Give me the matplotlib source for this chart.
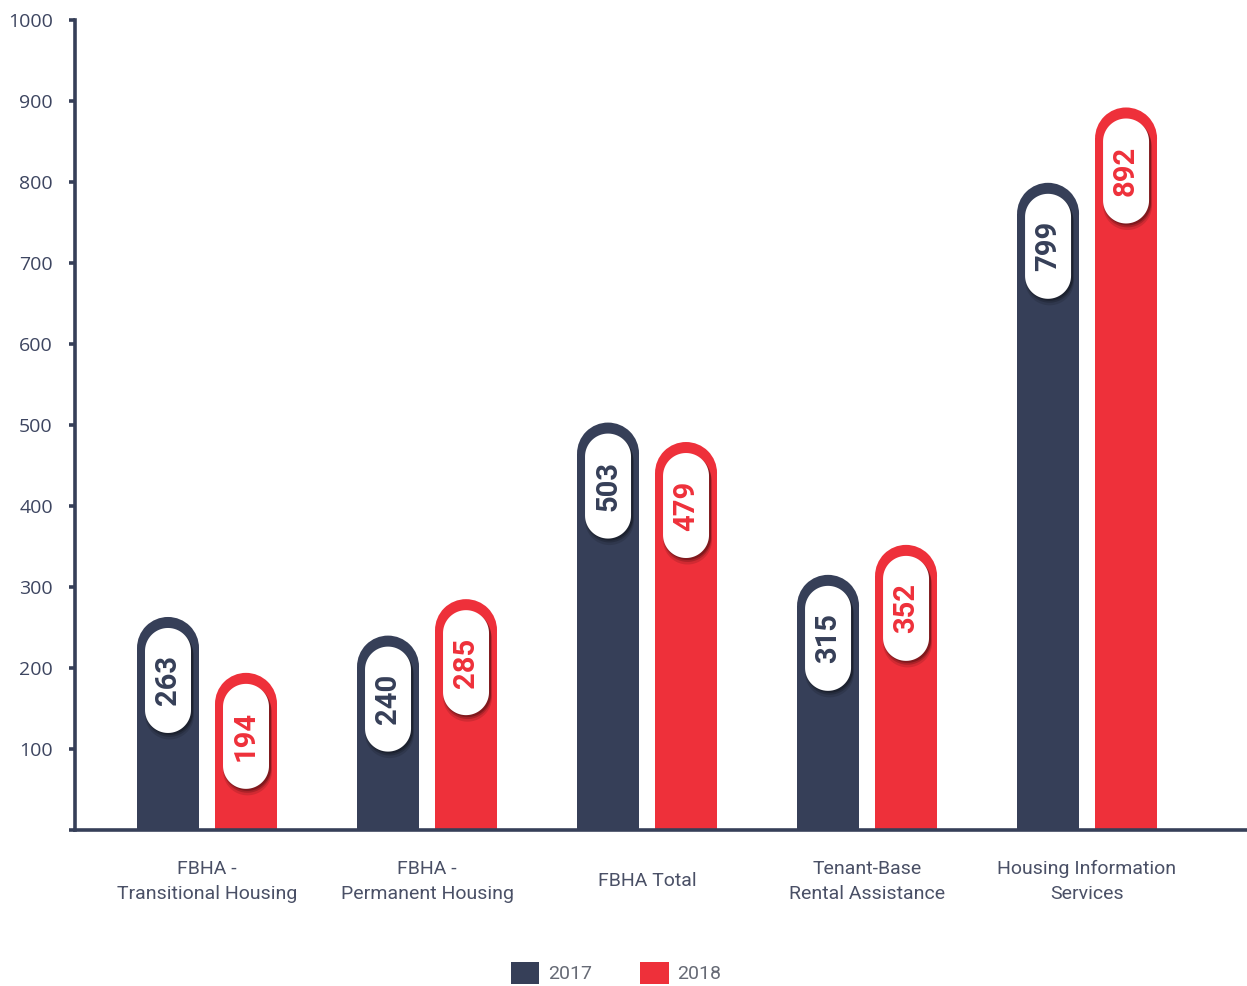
import numpy as np
import matplotlib
matplotlib.use("Agg")
import matplotlib.pyplot as plt
from matplotlib.patches import Polygon, Ellipse, Patch

categories = ["FBHA -\nTransitional Housing", "FBHA -\nPermanent Housing", "FBHA Total",
              "Tenant-Base\nRental Assistance", "Housing Information\nServices"]
series_names = ["2017", "2018"]
values_2017 = [263, 240, 503, 315, 799]
values_2018 = [194, 285, 479, 352, 892]
yticks = [0, 100, 200, 300, 400, 500, 600, 700, 800, 900, 1000]
ytick_labels = ["", "100", "200", "300", "400", "500", "600", "700", "800", "900", "1000"]

NAVY = "#363f58"
RED = "#ee303a"

W, H = 1247, 986
fig = plt.figure(figsize=(W / 100, H / 100), dpi=100)
ax = fig.add_axes([75 / W, 156 / H, (W - 75) / W, 810 / H])
xlim = (-0.6, 4.727)
ylim = (0, 1000)
ax.set_xlim(*xlim)
ax.set_ylim(*ylim)

ppx = (W - 75) / (xlim[1] - xlim[0])   # pixels per x unit
ppy = 810 / (ylim[1] - ylim[0])        # pixels per y unit

bw = 62 / ppx
off = 39 / ppx
x = np.arange(len(categories))


def pill_poly(cx, top, width_px, height_px, n=40):
    r = width_px / 2
    rx = r / ppx
    ry = r / ppy
    hy = height_px / ppy
    t = np.linspace(0, np.pi, n)
    top_c = top - ry
    bot_c = top - hy + ry
    pts_top = np.column_stack([cx + rx * np.cos(t), top_c + ry * np.sin(t)])
    pts_bot = np.column_stack([cx + rx * np.cos(t + np.pi), bot_c + ry * np.sin(t + np.pi)])
    return np.vstack([pts_top, pts_bot])


def rounded_bar(cx, val, color):
    r = 31
    ry = r / ppy
    ax.bar(cx, val - ry, width=bw, color=color, zorder=2, linewidth=0)
    ax.add_patch(Ellipse((cx, val - ry), bw, 2 * ry, color=color, zorder=2, linewidth=0))
    ptop = val - 11 / ppy
    # shadow
    for k, a in [(5, 0.12), (3, 0.18), (1.5, 0.25)]:
        sh = pill_poly(cx + 1.5 / ppx, ptop - k / ppy, 46 + k * 0.6, 105 + k * 0.3)
        ax.add_patch(Polygon(sh, closed=True, facecolor="black", alpha=a, edgecolor="none", zorder=3))
    ax.add_patch(Polygon(pill_poly(cx, ptop, 46, 105), closed=True, facecolor="white",
                         edgecolor="none", zorder=4))
    cy = ptop - 52.5 / ppy
    ax.text(cx, cy, str(val), rotation=90, ha="center", va="center", color=color,
            fontsize=21, fontweight="bold", family="Roboto", zorder=5)


for i in range(len(categories)):
    rounded_bar(x[i] - off, values_2017[i], NAVY)
    rounded_bar(x[i] + off, values_2018[i], RED)

for s in ["top", "right"]:
    ax.spines[s].set_visible(False)
for s in ["left", "bottom"]:
    ax.spines[s].set_color(NAVY)
    ax.spines[s].set_linewidth(2.6)
    ax.spines[s].set_zorder(6)

ax.set_yticks(yticks)
ax.set_yticklabels(ytick_labels, fontsize=14, color="#3d4560", family="Open Sans")
ax.tick_params(axis="y", length=4, width=2.6, color=NAVY, pad=12)
ax.set_xticks(x)
ax.set_xticklabels(categories, fontsize=14, color="#4a5066", family="Roboto",
                   linespacing=1.55, va="center")
ax.tick_params(axis="x", length=0, pad=37)

handles = [Patch(facecolor=NAVY, label=series_names[0]),
           Patch(facecolor=RED, label=series_names[1])]
leg = fig.legend(handles=handles, loc="center", bbox_to_anchor=(616 / W, 1 - 973 / H), ncol=2,
                 frameon=False, handlelength=1.45, handleheight=1.4, columnspacing=2.5,
                 handletextpad=0.45, prop={"family": "Roboto", "size": 14})
for t in leg.get_texts():
    t.set_color("#666a75")

fig.savefig("out.png", dpi=100)
